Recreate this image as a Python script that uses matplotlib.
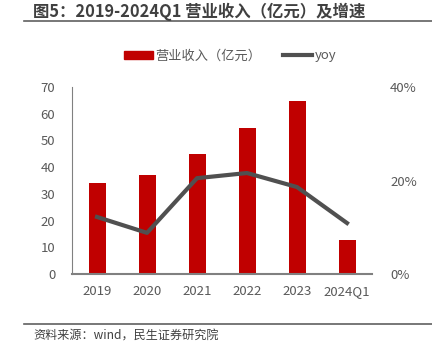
import matplotlib
matplotlib.use("Agg")
import matplotlib.pyplot as plt
from matplotlib.lines import Line2D
from matplotlib.ticker import FuncFormatter

plt.rcParams["font.family"] = ["Noto Sans CJK SC", "DejaVu Sans"]

years = ["2019", "2020", "2021", "2022", "2023", "2024Q1"]
revenue = [34.1, 37.1, 45.0, 54.7, 64.8, 12.7]
yoy = [12.2, 8.8, 20.5, 21.6, 18.6, 10.9]

bar_colour = "#C00000"
line_colour = "#505050"
text_colour = "#595959"
axis_colour = "#808080"

fig = plt.figure(figsize=(4.32, 3.42), dpi=100)
ax = fig.add_axes([72 / 432, 1 - 274 / 342, 300 / 432, 187 / 342])
ax2 = ax.twinx()

x = list(range(len(years)))
ax.bar(x, revenue, width=0.34, color=bar_colour, zorder=2)
ax2.plot(x, yoy, color=line_colour, lw=3, zorder=3)

ax.set_xlim(-0.5, 5.5)
ax.set_ylim(0, 70)
ax.set_yticks(range(0, 71, 10))
ax2.set_ylim(0, 40)
ax2.set_yticks([0, 20, 40])
ax2.yaxis.set_major_formatter(FuncFormatter(lambda v, p: f"{v:.0f}%"))
ax.set_xticks(x)
ax.set_xticklabels(years)

for a in (ax, ax2):
    for s in ("top", "right"):
        a.spines[s].set_visible(False)
ax2.spines["left"].set_visible(False)
ax2.spines["bottom"].set_visible(False)
ax.spines["left"].set_color(axis_colour)
ax.spines["bottom"].set_color(axis_colour)
ax.spines["bottom"].set_linewidth(1.5)

ax.tick_params(axis="both", length=0, colors=text_colour, labelsize=9.5)
ax.tick_params(axis="y", pad=12)
ax.tick_params(axis="x", pad=8)
ax2.tick_params(axis="y", length=0, colors=text_colour, labelsize=9.5, pad=13)

handles = [
    plt.Rectangle((0, 0), 1, 1, color=bar_colour),
    Line2D([], [], color=line_colour, lw=3),
]
fig.legend(handles, ["营业收入（亿元）", "yoy"], loc="center",
           bbox_to_anchor=(230 / 432, 1 - 56 / 342), ncol=2, frameon=False,
           fontsize=9.5, labelcolor=text_colour, handlelength=2.2,
           handleheight=0.6, columnspacing=1.6, handletextpad=0.2)

fig.text(33 / 432, 1 - 12 / 342, "图5：2019-2024Q1 营业收入（亿元）及增速",
         fontsize=11.8, fontweight="bold", color="#404040", va="center")
fig.add_artist(Line2D([24 / 432, 1], [1 - 21 / 342] * 2, color="#606060", lw=1.2))
fig.add_artist(Line2D([24 / 432, 1], [1 - 324 / 342] * 2, color="#606060", lw=1.2))
fig.text(33 / 432, 1 - 336 / 342, "资料来源：wind，民生证券研究院",
         fontsize=8.7, color="#404040", va="center")

fig.savefig("out.png", dpi=100)
